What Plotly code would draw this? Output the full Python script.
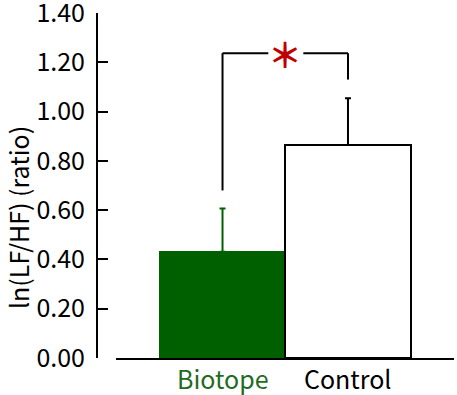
import plotly.graph_objects as go

categories = ["Biotope", "Control"]
means = [0.431, 0.864]
errors = [0.176, 0.190]
bar_colors = ["#006000", "#ffffff"]
line_colors = ["#006000", "#000000"]
label_colors = ["#1f6b1f", "#000000"]
y_ticks = [0.0, 0.2, 0.4, 0.6, 0.8, 1.0, 1.2, 1.4]
y_title = "ln(LF/HF) (ratio)"
bracket_y = 1.237
bracket_left_bottom = 0.68
bracket_right_bottom = 1.13

FONT = "Noto Sans CJK JP"
W, H = 457, 395
TOP, BOT = 13, 358
PH = BOT - TOP


def py(p):
    # figure pixel row -> paper fraction of plot area
    return (BOT - p) / PH


fig = go.Figure()
for i, c in enumerate(categories):
    fig.add_trace(go.Bar(
        x=[i], y=[means[i]], width=1.0,
        marker=dict(color=bar_colors[i], line=dict(color=line_colors[i], width=2)),
        error_y=dict(type="data", array=[errors[i]], arrayminus=[0], symmetric=False,
                     color=line_colors[i], thickness=2, width=3),
        showlegend=False, hoverinfo="skip",
    ))

# significance bracket
line = dict(color="black", width=2)
fig.add_shape(type="line", x0=0, x1=0, y0=bracket_left_bottom, y1=bracket_y, line=line, layer="above")
fig.add_shape(type="line", x0=0, x1=0.365, y0=bracket_y, y1=bracket_y, line=line, layer="above")
fig.add_shape(type="line", x0=0.644, x1=1, y0=bracket_y, y1=bracket_y, line=line, layer="above")
fig.add_shape(type="line", x0=1, x1=1, y0=bracket_right_bottom, y1=bracket_y, line=line, layer="above")
fig.add_annotation(x=0.5, y=bracket_y, text="<b>＊</b>", showarrow=False, yanchor="middle",
                   font=dict(family=FONT, size=34, color="#c00000"))

# category labels
for i, c in enumerate(categories):
    fig.add_annotation(x=i, y=py(378), yref="paper", text=c, showarrow=False,
                       yanchor="middle",
                       font=dict(family=FONT, size=25, color=label_colors[i]))

# y title
fig.add_annotation(x=18 / W, y=py(218), xref="paper", yref="paper", text=y_title,
                   textangle=-90, showarrow=False, xanchor="center", yanchor="middle",
                   font=dict(family=FONT, size=25, color="black"))

fig.update_layout(
    width=W, height=H,
    margin=dict(l=0, r=0, t=TOP, b=H - BOT, autoexpand=False),
    paper_bgcolor="white", plot_bgcolor="white",
    bargap=0,
    xaxis=dict(domain=[116 / W, 454 / W], range=[-0.849, 1.845], showline=True,
               linecolor="black", linewidth=2, showticklabels=False, ticks="",
               showgrid=False, zeroline=False, fixedrange=True, automargin=False),
    yaxis=dict(range=[0, 1.4001], tickvals=y_ticks, ticktext=[f"{v:.2f}" for v in y_ticks],
               anchor="free", position=97 / W, showline=True, linecolor="black", linewidth=2,
               ticks="inside", ticklen=10, tickwidth=2, tickcolor="black",
               showgrid=False, zeroline=False, ticklabeloverflow="allow", automargin=False,
               tickfont=dict(family=FONT, size=25, color="black"), ticklabelstandoff=6),
)

fig.write_html("out.html")
